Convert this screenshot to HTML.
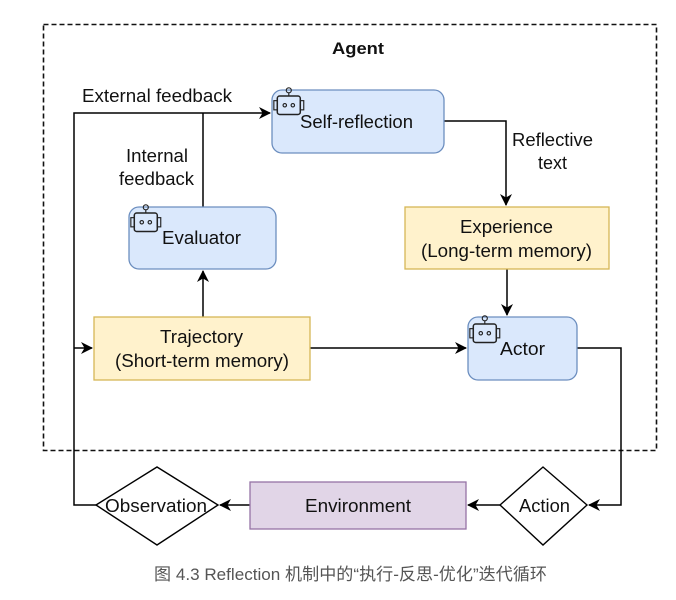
<!DOCTYPE html>
<html><head><meta charset="utf-8"><style>
html,body{margin:0;padding:0;background:#fff;}
svg{display:block;}
text{font-family:"Liberation Sans",Arial,sans-serif;fill:#111;font-size:18px;}
</style></head><body>
<svg width="676" height="600" viewBox="0 0 676 600" xmlns="http://www.w3.org/2000/svg">
<defs>
<marker id="a" markerWidth="12" markerHeight="12" refX="11" refY="6" orient="auto" markerUnits="userSpaceOnUse">
<path d="M0,0 L12,6 L0,12 L3.5,6 Z" fill="#000"/>
</marker>
<g id="bot" transform="scale(1.15)">
<circle cx="12" cy="2" r="2.2" fill="none" stroke="#222" stroke-width="1"/>
<line x1="12" y1="4" x2="12" y2="7" stroke="#222"/>
<rect x="2" y="7" width="20" height="16" rx="2" fill="none" stroke="#222" stroke-width="1.3"/>
<rect x="-1" y="11" width="3" height="8" fill="none" stroke="#222" stroke-width="1"/>
<rect x="22" y="11" width="3" height="8" fill="none" stroke="#222" stroke-width="1"/>
<circle cx="8.5" cy="15" r="1.5" fill="none" stroke="#222"/>
<circle cx="15.5" cy="15" r="1.5" fill="none" stroke="#222"/>
</g>
</defs>
<rect x="43.5" y="24.5" width="613" height="426" fill="none" stroke="#111" stroke-width="1.6" stroke-dasharray="5,3"/>
<text x="332" y="54" font-weight="bold" style="font-size:17px" textLength="52" lengthAdjust="spacingAndGlyphs">Agent</text>

<g stroke="#000" stroke-width="1.5" fill="none">
<path d="M96,505 H74 V113 H270" marker-end="url(#a)"/>
<path d="M74,348 H92" marker-end="url(#a)"/>
<path d="M203,207 V113"/>
<path d="M203,317 V271" marker-end="url(#a)"/>
<path d="M444,121 H506 V205" marker-end="url(#a)"/>
<path d="M507,269 V315" marker-end="url(#a)"/>
<path d="M310,348 H466" marker-end="url(#a)"/>
<path d="M577,348 H621 V505 H589" marker-end="url(#a)"/>
<path d="M500,505 H468" marker-end="url(#a)"/>
<path d="M250,505 H220" marker-end="url(#a)"/>
</g>

<text x="82" y="102" textLength="150" lengthAdjust="spacingAndGlyphs">External feedback</text>
<text x="126" y="162" textLength="62" lengthAdjust="spacingAndGlyphs">Internal</text>
<text x="119" y="185" textLength="75" lengthAdjust="spacingAndGlyphs">feedback</text>
<text x="512" y="146" textLength="81" lengthAdjust="spacingAndGlyphs">Reflective</text>
<text x="538" y="169" textLength="29" lengthAdjust="spacingAndGlyphs">text</text>

<rect x="272" y="90" width="172" height="63" rx="10" fill="#dae8fc" stroke="#6c8ebf" stroke-width="1.3"/>
<use href="#bot" x="275" y="88"/>
<text x="300" y="128" textLength="113" lengthAdjust="spacingAndGlyphs">Self-reflection</text>

<rect x="129" y="207" width="147" height="62" rx="10" fill="#dae8fc" stroke="#6c8ebf" stroke-width="1.3"/>
<use href="#bot" x="132" y="205"/>
<text x="162" y="244" textLength="79" lengthAdjust="spacingAndGlyphs">Evaluator</text>

<rect x="405" y="207" width="204" height="62" fill="#fff2cc" stroke="#d6b656" stroke-width="1.3"/>
<text x="460" y="233" textLength="93" lengthAdjust="spacingAndGlyphs">Experience</text>
<text x="421" y="257" textLength="171" lengthAdjust="spacingAndGlyphs">(Long-term memory)</text>

<rect x="94" y="317" width="216" height="63" fill="#fff2cc" stroke="#d6b656" stroke-width="1.3"/>
<text x="160" y="343" textLength="83" lengthAdjust="spacingAndGlyphs">Trajectory</text>
<text x="115" y="367" textLength="174" lengthAdjust="spacingAndGlyphs">(Short-term memory)</text>

<rect x="468" y="317" width="109" height="63" rx="10" fill="#dae8fc" stroke="#6c8ebf" stroke-width="1.3"/>
<use href="#bot" x="471" y="316"/>
<text x="500" y="355" textLength="45" lengthAdjust="spacingAndGlyphs">Actor</text>

<rect x="250" y="482" width="216" height="47" fill="#e1d5e7" stroke="#9673a6" stroke-width="1.3"/>
<text x="305" y="512" textLength="106" lengthAdjust="spacingAndGlyphs">Environment</text>

<path d="M96,505 L157,467 L218,505 L157,545 Z" fill="#fff" stroke="#000" stroke-width="1.4"/>
<text x="105" y="512" textLength="102" lengthAdjust="spacingAndGlyphs">Observation</text>

<path d="M500,505 L543,467 L587,505 L543,545 Z" fill="#fff" stroke="#000" stroke-width="1.4"/>
<text x="519" y="512" textLength="51" lengthAdjust="spacingAndGlyphs">Action</text>

<text x="154" y="580" textLength="393" lengthAdjust="spacingAndGlyphs" style="fill:#555;font-size:17px;font-family:'Liberation Sans','Noto Sans CJK SC',sans-serif;">图 4.3 Reflection 机制中的“执行-反思-优化”迭代循环</text>
</svg>
</body></html>
